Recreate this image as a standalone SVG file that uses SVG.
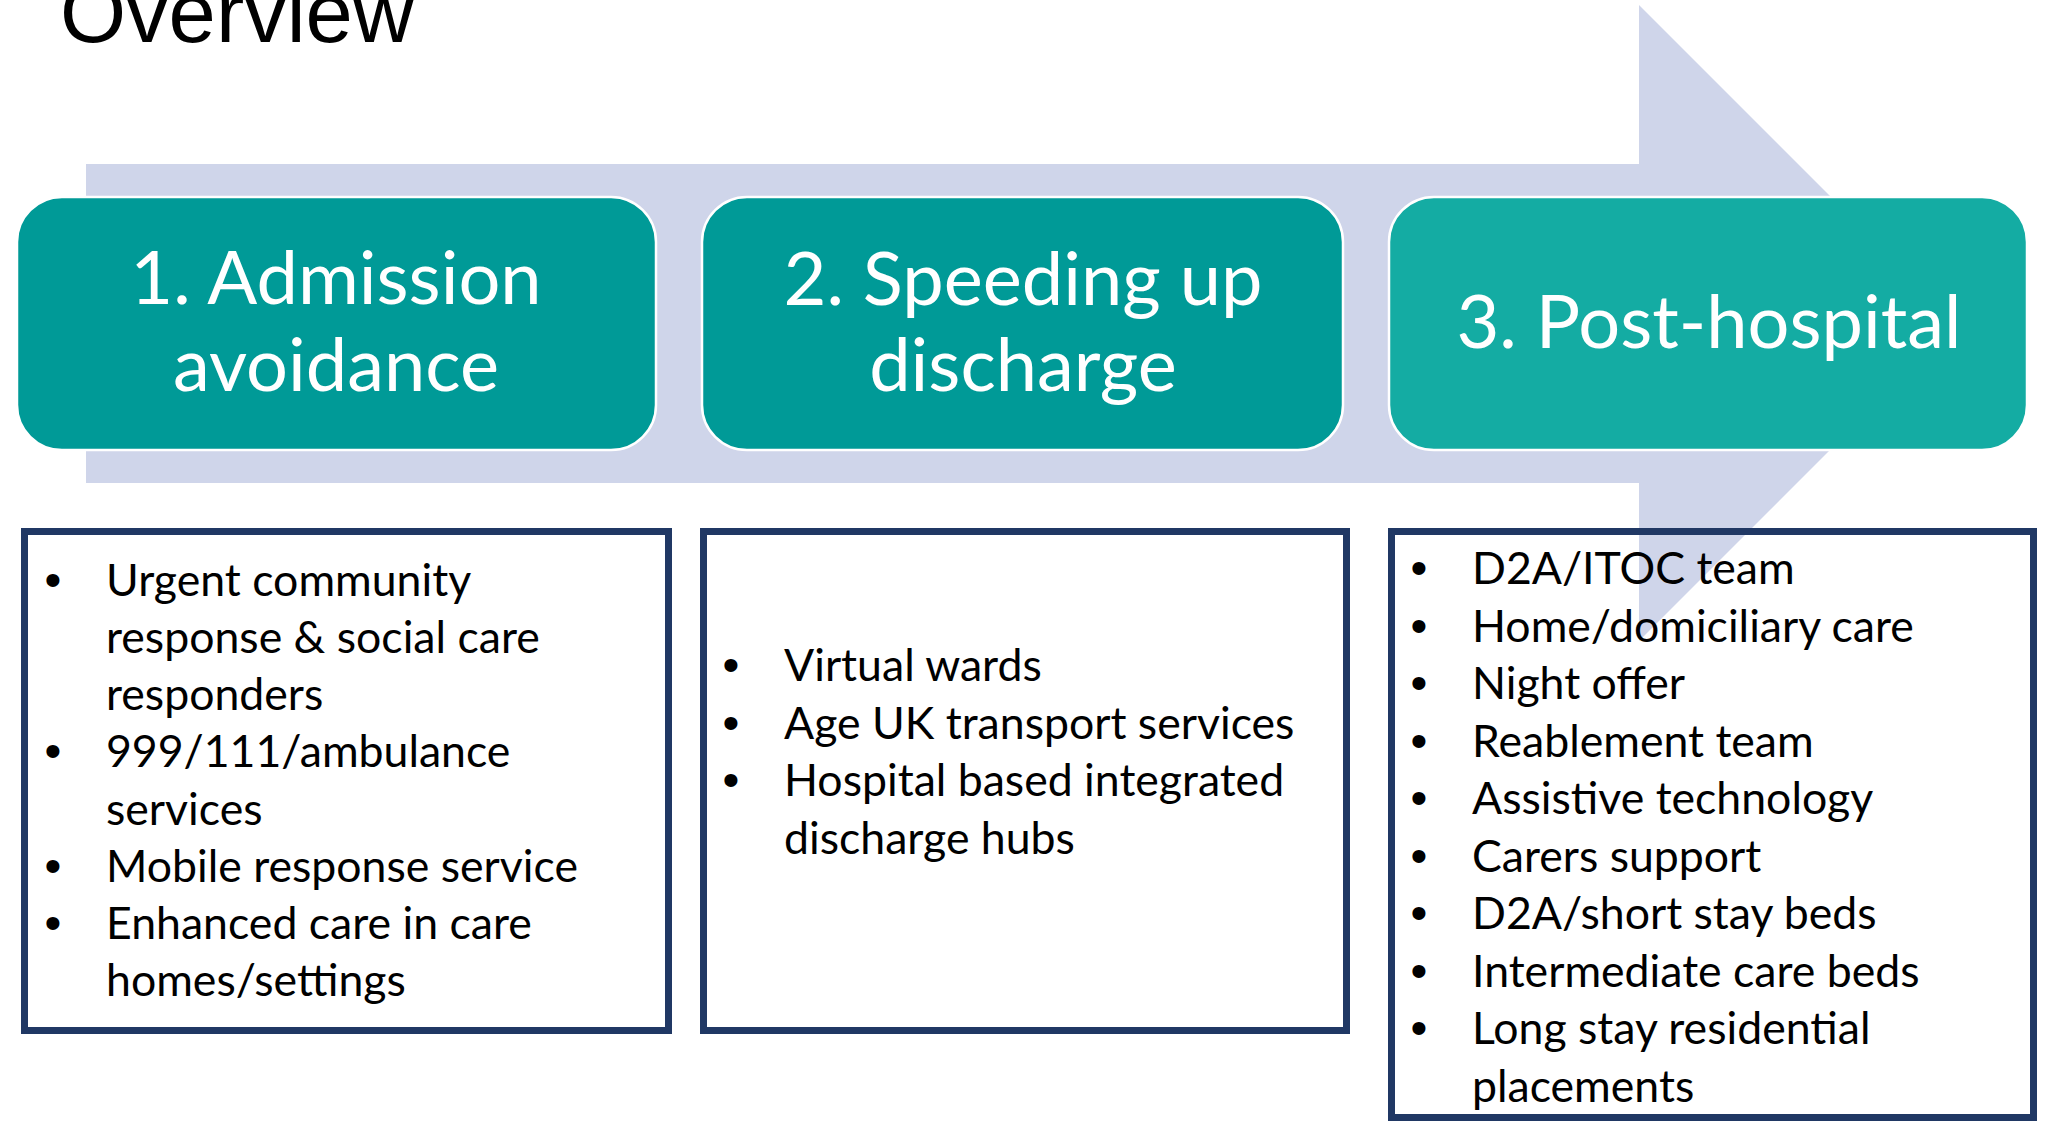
<svg xmlns="http://www.w3.org/2000/svg" width="2045" height="1121" viewBox="0 0 2045 1121">
<style>
.title{font-family:"Liberation Sans",Arial,sans-serif;font-size:85px;fill:#000}
.hdr{fill:#009A97;stroke:#FFFFFF;stroke-width:2.5}
.hdr3{fill:#14ACA3;stroke:#FFFFFF;stroke-width:2.5}
.htxt{font-family:Lato,"Open Sans",sans-serif;font-size:74px;fill:#FFFFFF;text-anchor:middle}
.list{fill:none;stroke:#203864;stroke-width:7}
.li{font-family:Lato,"Open Sans",sans-serif;font-size:44.6px;fill:#000}
.bul{font-family:"Liberation Sans",Arial,sans-serif;font-size:48px;fill:#000;text-anchor:middle}
</style>
<rect width="2045" height="1121" fill="#FFFFFF"/>
<text class="title" x="60" y="42">Overview</text>
<g id="connectors">
<polygon id="flow-arrow" points="86,164 1639,164 1639,5 1957,323 1639,641 1639,483 86,483" fill="#CFD5EA"/>
</g>
<g id="stage1">
<rect class="hdr" x="17" y="197" width="639" height="253" rx="45" ry="45"/>
<text class="htxt" x="336" y="304">1. Admission</text>
<text class="htxt" x="336" y="391">avoidance</text>
</g>
<g id="stage2">
<rect class="hdr" x="702" y="197" width="641" height="253" rx="45" ry="45"/>
<text class="htxt" x="1023" y="305">2. Speeding up</text>
<text class="htxt" x="1023" y="391">discharge</text>
</g>
<g id="stage3">
<rect class="hdr3" x="1389" y="197" width="638" height="253" rx="45" ry="45"/>
<text class="htxt" x="1709" y="348">3. Post-hospital</text>
</g>
<g id="list1">
<rect class="list" x="24.5" y="531.5" width="644" height="499"/>
<text class="bul" x="53" y="596">•</text>
<text class="li" x="106" y="596">Urgent community</text>
<text class="li" x="106" y="653">response &amp; social care</text>
<text class="li" x="106" y="710">responders</text>
<text class="bul" x="53" y="767">•</text>
<text class="li" x="106" y="767">999/111/ambulance</text>
<text class="li" x="106" y="825">services</text>
<text class="bul" x="53" y="882">•</text>
<text class="li" x="106" y="882">Mobile response service</text>
<text class="bul" x="53" y="939">•</text>
<text class="li" x="106" y="939">Enhanced care in care</text>
<text class="li" x="106" y="996">homes/settings</text>
</g>
<g id="list2">
<rect class="list" x="703.5" y="531.5" width="643" height="499"/>
<text class="bul" x="731" y="681">•</text>
<text class="li" x="784" y="681">Virtual wards</text>
<text class="bul" x="731" y="739">•</text>
<text class="li" x="784" y="739">Age UK transport services</text>
<text class="bul" x="731" y="796">•</text>
<text class="li" x="784" y="796">Hospital based integrated</text>
<text class="li" x="784" y="854">discharge hubs</text>
</g>
<g id="list3">
<rect class="list" x="1391.5" y="531.5" width="642" height="586"/>
<text class="bul" x="1419" y="584">•</text>
<text class="li" x="1472" y="584">D2A/ITOC team</text>
<text class="bul" x="1419" y="642">•</text>
<text class="li" x="1472" y="642">Home/domiciliary care</text>
<text class="bul" x="1419" y="699">•</text>
<text class="li" x="1472" y="699">Night offer</text>
<text class="bul" x="1419" y="757">•</text>
<text class="li" x="1472" y="757">Reablement team</text>
<text class="bul" x="1419" y="814">•</text>
<text class="li" x="1472" y="814">Assistive technology</text>
<text class="bul" x="1419" y="872">•</text>
<text class="li" x="1472" y="872">Carers support</text>
<text class="bul" x="1419" y="929">•</text>
<text class="li" x="1472" y="929">D2A/short stay beds</text>
<text class="bul" x="1419" y="987">•</text>
<text class="li" x="1472" y="987">Intermediate care beds</text>
<text class="bul" x="1419" y="1044">•</text>
<text class="li" x="1472" y="1044">Long stay residential</text>
<text class="li" x="1472" y="1102">placements</text>
</g>
</svg>
